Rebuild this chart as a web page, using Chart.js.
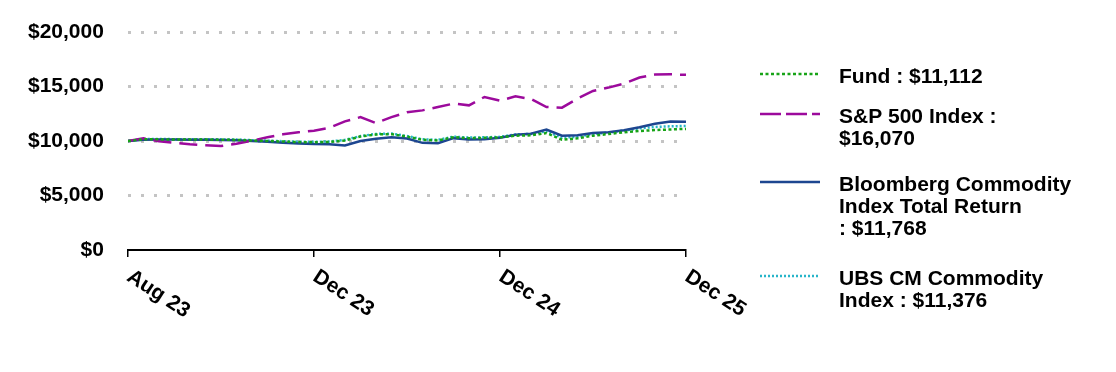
<!DOCTYPE html>
<html lang="en">
<head>
<meta charset="UTF-8">
<title>Growth of $10,000</title>
<script src="https://cdn.jsdelivr.net/npm/chart.js"></script>
<style>
    body { margin: 0; background: #fff; }
    #chartContainer { width: 1116px; height: 372px; }
</style>
</head>
<body>
<div id="chartContainer">
    <canvas id="growthChart" width="1116" height="372"></canvas>
</div>

<script>
// x axis labels, shown at every 12th point
const tickLabels = ['Aug 23', 'Dec 23', 'Dec 24', 'Dec 25'];

// values, one per point (37 points)
const fund = [10000, 10150, 10150, 10140, 10140, 10130, 10120, 10100, 10050, 10000, 9950, 9900, 9880,
              9920, 10050, 10410, 10600, 10630, 10410, 10110, 10050, 10350, 10260, 10290, 10330,
              10490, 10520, 10730, 10120, 10240, 10490, 10640, 10800, 10920, 11000, 11060, 11112];
const sp500 = [10000, 10240, 9970, 9830, 9700, 9610, 9540, 9750, 10030, 10340, 10610, 10800, 10950,
               11210, 11800, 12190, 11640, 12190, 12630, 12810, 13120, 13430, 13270, 14040, 13700,
               14100, 13850, 13120, 13060, 13890, 14590, 14900, 15270, 15820, 16100, 16120, 16070];
const bcom = [10000, 10120, 10130, 10130, 10120, 10110, 10100, 10080, 10000, 9920, 9850, 9780, 9720,
              9710, 9590, 10000, 10200, 10350, 10230, 9830, 9800, 10260, 10140, 10170, 10290,
              10580, 10670, 11040, 10490, 10520, 10730, 10800, 10980, 11260, 11590, 11790, 11768];
const ubs = [10000, 10170, 10180, 10170, 10170, 10160, 10150, 10130, 10080, 10030, 9980, 9940, 9920,
             9960, 10100, 10450, 10650, 10680, 10460, 10160, 10100, 10400, 10310, 10340, 10380,
             10600, 10650, 10900, 10300, 10380, 10650, 10770, 10960, 11160, 11290, 11350, 11376];

// legend text, line by line
const legendText = [
    ['Fund : $11,112'],
    ['S&P 500 Index :', '$16,070'],
    ['Bloomberg Commodity', 'Index Total Return', ': $11,768'],
    ['UBS CM Commodity', 'Index : $11,376']
];

const FONT = "'Liberation Sans', Arial, sans-serif";

function toPoints(values) {
    return values.map((v, i) => ({ x: i, y: v }));
}

const series = [
    { data: fund,  color: '#17a317', width: 2.5, dash: [3, 2.5], legendDash: [3, 2.5] },
    { data: sp500, color: '#9c0a9c', width: 2.5, dash: [18, 8],  legendDash: [21, 5] },
    { data: bcom,  color: '#1d4690', width: 2.5, dash: [],       legendDash: [] },
    { data: ubs,   color: '#27b5c9', width: 2.5, dash: [2, 2],   legendDash: [2, 2] }
];

// rotated x labels and the legend on the right
const extras = {
    id: 'extras',
    afterDraw(chart) {
        const ctx = chart.ctx;
        const xs = chart.scales.x;
        ctx.save();
        ctx.font = 'bold 21px ' + FONT;
        ctx.fillStyle = '#000';

        xs.ticks.forEach((t, i) => {
            const px = xs.getPixelForValue(t.value);
            ctx.save();
            ctx.translate(px + 1, 275);
            ctx.rotate(33 * Math.PI / 180);
            ctx.textAlign = 'left';
            ctx.textBaseline = 'middle';
            ctx.fillText(tickLabels[i], 0, 0);
            ctx.restore();
        });

        const sampleY = [74, 114, 182, 276];
        series.forEach((s, i) => {
            ctx.beginPath();
            ctx.strokeStyle = s.color;
            ctx.lineWidth = s.width;
            ctx.setLineDash(s.legendDash);
            ctx.moveTo(760, sampleY[i]);
            ctx.lineTo(820, sampleY[i]);
            ctx.stroke();
            ctx.setLineDash([]);
            ctx.textAlign = 'left';
            ctx.textBaseline = 'alphabetic';
            legendText[i].forEach((line, j) => {
                ctx.fillText(line, 839, sampleY[i] + 9 + j * 22);
            });
        });
        ctx.restore();
    }
};

const ctx = document.getElementById('growthChart').getContext('2d');
const growthChart = new Chart(ctx, {
    type: 'line',
    data: {
        datasets: series.map(s => ({
            data: toPoints(s.data),
            borderColor: s.color,
            borderWidth: s.width,
            borderDash: s.dash,
            borderCapStyle: 'butt',
            pointRadius: 0,
            tension: 0,
            fill: false
        }))
    },
    options: {
        responsive: false,
        animation: false,
        layout: { padding: { left: 24, top: 32, right: 430, bottom: 115 } },
        plugins: { legend: { display: false }, tooltip: { enabled: false } },
        scales: {
            x: {
                type: 'linear',
                min: 0,
                max: 36,
                ticks: { stepSize: 12, display: false },
                grid: { drawOnChartArea: false, drawTicks: true, tickLength: 7, color: '#000', lineWidth: 1.5 },
                border: { display: true, color: '#000', width: 2 }
            },
            y: {
                min: 0,
                max: 20000,
                ticks: {
                    stepSize: 5000,
                    padding: 4,
                    color: '#000',
                    font: { family: FONT, size: 21, weight: 'bold' },
                    callback: v => '$' + v.toLocaleString('en-US')
                },
                grid: {
                    drawTicks: true,
                    tickLength: 20,
                    tickColor: 'rgba(0,0,0,0)',
                    lineWidth: 3,
                    color: c => (c.tick && c.tick.value === 0) ? 'rgba(0,0,0,0)' : '#c4c4c4'
                },
                border: { display: false, dash: [3, 10] }
            }
        }
    },
    plugins: [extras]
});
</script>
</body>
</html>
